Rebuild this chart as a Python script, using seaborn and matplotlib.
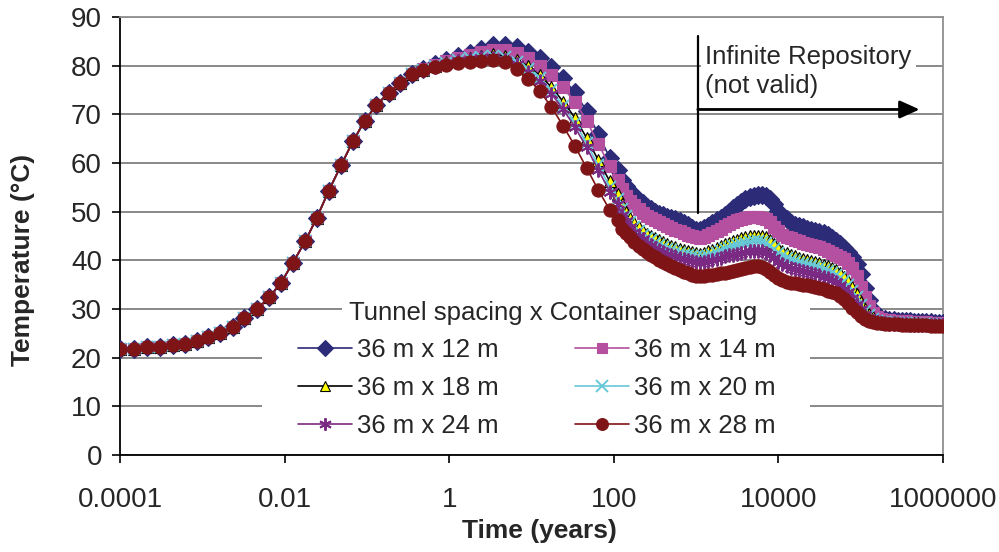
import matplotlib
matplotlib.use("Agg")
import matplotlib.pyplot as plt
from matplotlib.lines import Line2D
from matplotlib.patches import Rectangle
from matplotlib.ticker import FixedLocator, FixedFormatter, NullLocator
import pandas as pd
import seaborn as sns

sns.set_theme(style="white")
plt.rcParams["font.family"] = ["Liberation Sans", "DejaVu Sans"]

# all layouts follow the same curve for the first months
early_years = [0.0001, 0.000148, 0.000211, 0.000307, 0.000438, 0.000618, 0.000858,
               0.00119, 0.00165, 0.00235, 0.00325, 0.0046, 0.00655, 0.009, 0.0126,
               0.0178, 0.0247, 0.0342, 0.0488, 0.0678, 0.0938, 0.13, 0.184, 0.255, 0.354]
early_temp = [21.8, 21.8, 22.1, 22.2, 22.6, 22.9, 23.4, 24.2, 25.1, 26.4, 28.1, 30.0,
              32.5, 35.3, 39.5, 43.9, 48.8, 54.2, 59.6, 64.5, 68.6, 71.9, 74.4, 76.5, 78.2]

mid_years = [0.481, 0.667, 0.925, 1.28, 1.78, 2.47, 3.42, 4.74, 6.58, 9.12, 12.6,
             17.5, 24.3, 33.7, 46.7, 64.7, 89.7]
late_years = [112, 126, 141, 158, 178, 200, 224, 251, 282, 316,
              355, 398, 447, 501, 562, 631, 708, 794, 891, 1000,
              1120, 1260, 1410, 1580, 1780, 2000, 2240, 2510, 2820, 3160,
              3550, 3980, 4470, 5010, 5620, 6310, 7080, 7940, 8910, 10000,
              11200, 12600, 14100, 15800, 17800, 20000, 22400, 25100, 28200, 31600,
              35500, 39800, 44700, 50100, 56200, 63100, 70800, 79400, 89100, 100000,
              112000, 126000, 141000, 158000, 178000, 200000, 224000, 251000, 282000, 316000,
              355000, 398000, 447000, 501000, 562000, 631000, 708000, 794000, 891000, 1000000]

temp_12 = [79.3, 80.3, 81.2, 81.9, 82.6, 83.4, 84.2, 84.3, 83.8, 82.8, 81.5, 79.8, 77.4,
           74.5, 70.7, 66.0, 61.0,
           58.6, 56.6, 55.3, 54.2, 53.3, 52.5, 51.7, 51.0, 50.5, 50.0,
           49.6, 49.3, 49.0, 48.7, 48.4, 48.0, 47.6, 47.2, 46.7, 46.3,
           46.3, 46.6, 47.1, 47.6, 48.2, 48.8, 49.4, 50.0, 50.7, 51.3,
           52.0, 52.6, 53.0, 53.3, 53.5, 53.5, 53.2, 52.6, 51.5, 50.2,
           49.2, 48.4, 47.7, 47.2, 47.0, 46.8, 46.5, 46.3, 46.1, 45.9,
           45.6, 45.2, 44.6, 44.0, 43.4, 42.6, 41.8, 40.7, 39.2, 37.2,
           34.4, 31.8, 29.8, 28.6, 28.1, 27.9, 27.8, 27.7, 27.6, 27.6,
           27.5, 27.5, 27.4, 27.4, 27.4, 27.4, 27.3, 27.2, 27.2, 27.1]
temp_14 = [79.3, 80.2, 81.0, 81.6, 82.2, 82.8, 83.3, 83.2, 82.6, 81.6, 80.0, 78.0, 75.6,
           72.6, 68.7, 64.0, 59.3,
           56.6, 54.6, 53.3, 52.2, 51.3, 50.5, 49.8, 49.2, 48.7, 48.2,
           47.8, 47.4, 47.0, 46.7, 46.3, 46.0, 45.6, 45.3, 45.0, 44.7,
           44.6, 44.8, 45.2, 45.6, 46.0, 46.5, 47.0, 47.4, 47.8, 48.2,
           48.5, 48.7, 48.9, 49.0, 49.0, 48.8, 48.4, 47.8, 46.9, 46.0,
           45.3, 44.8, 44.5, 44.2, 43.9, 43.6, 43.4, 43.2, 43.0, 42.7,
           42.4, 42.0, 41.6, 41.2, 40.7, 40.2, 39.5, 38.5, 36.8, 34.5,
           32.4, 30.6, 29.2, 28.4, 28.0, 27.8, 27.7, 27.6, 27.6, 27.5,
           27.5, 27.4, 27.4, 27.3, 27.3, 27.3, 27.2, 27.2, 27.1, 27.1]
temp_18 = [79.2, 80.0, 80.7, 81.2, 81.6, 82.0, 82.3, 82.0, 81.2, 79.9, 78.0, 75.6, 72.6,
           69.3, 65.2, 60.6, 56.2,
           53.6, 51.5, 50.0, 48.8, 47.7, 46.8, 46.1, 45.5, 45.0, 44.5,
           44.1, 43.7, 43.3, 43.0, 42.7, 42.4, 42.1, 41.9, 41.7, 41.5,
           41.4, 41.6, 41.9, 42.2, 42.5, 42.9, 43.3, 43.6, 43.9, 44.2,
           44.5, 44.7, 44.9, 45.1, 45.1, 45.0, 44.7, 44.2, 43.4, 42.6,
           42.0, 41.5, 41.1, 40.8, 40.5, 40.3, 40.1, 39.9, 39.7, 39.4,
           39.1, 38.8, 38.4, 38.0, 37.4, 36.6, 35.7, 34.5, 33.1, 31.5,
           30.1, 29.0, 28.3, 27.8, 27.6, 27.4, 27.3, 27.3, 27.2, 27.2,
           27.1, 27.1, 27.1, 27.1, 27.0, 27.0, 27.0, 27.0, 26.9, 26.9]
temp_20 = [79.2, 79.9, 80.6, 81.1, 81.5, 81.8, 82.0, 81.7, 80.8, 79.4, 77.4, 74.9, 71.8,
           68.3, 64.1, 59.5, 55.1,
           52.6, 50.5, 49.1, 47.9, 46.9, 46.0, 45.3, 44.6, 44.1, 43.6,
           43.2, 42.8, 42.4, 42.1, 41.8, 41.5, 41.2, 41.0, 40.8, 40.6,
           40.5, 40.7, 40.9, 41.2, 41.5, 41.9, 42.3, 42.6, 42.9, 43.1,
           43.4, 43.6, 43.8, 43.9, 43.9, 43.8, 43.5, 43.0, 42.3, 41.5,
           40.9, 40.5, 40.1, 39.8, 39.5, 39.3, 39.1, 38.9, 38.7, 38.4,
           38.1, 37.8, 37.4, 37.0, 36.4, 35.7, 34.9, 33.8, 32.4, 30.9,
           29.6, 28.7, 28.0, 27.6, 27.4, 27.3, 27.2, 27.2, 27.1, 27.1,
           27.1, 27.0, 27.0, 27.0, 26.9, 26.9, 26.9, 26.9, 26.8, 26.8]
temp_24 = [79.1, 79.8, 80.4, 80.9, 81.2, 81.5, 81.6, 81.2, 80.3, 78.8, 76.8, 74.2, 71.0,
           67.4, 63.2, 58.6, 54.1,
           51.6, 49.4, 48.0, 46.9, 45.9, 45.0, 44.3, 43.6, 43.1, 42.6,
           42.2, 41.8, 41.4, 41.1, 40.8, 40.5, 40.2, 40.0, 39.8, 39.6,
           39.5, 39.6, 39.8, 40.0, 40.2, 40.5, 40.8, 41.0, 41.2, 41.4,
           41.6, 41.8, 41.9, 42.0, 42.0, 41.9, 41.5, 41.0, 40.4, 39.7,
           39.2, 38.8, 38.5, 38.2, 38.0, 37.8, 37.6, 37.4, 37.2, 36.9,
           36.6, 36.3, 35.9, 35.5, 34.9, 34.2, 33.4, 32.3, 31.1, 29.9,
           28.8, 28.1, 27.6, 27.3, 27.2, 27.1, 27.0, 27.0, 26.9, 26.9,
           26.9, 26.8, 26.8, 26.8, 26.8, 26.7, 26.7, 26.7, 26.7, 26.7]
temp_28 = [79.1, 79.7, 80.2, 80.5, 80.8, 81.0, 81.1, 80.7, 79.4, 77.3, 74.8, 71.5, 67.6,
           63.5, 59.0, 54.5, 50.3,
           48.2, 46.5, 45.6, 44.7, 43.8, 43.0, 42.3, 41.7, 41.1, 40.6,
           40.1, 39.7, 39.3, 38.9, 38.4, 38.0, 37.6, 37.3, 37.0, 36.8,
           36.7, 36.8, 36.9, 37.0, 37.1, 37.3, 37.4, 37.6, 37.8, 38.0,
           38.3, 38.5, 38.7, 38.8, 38.8, 38.6, 38.2, 37.6, 36.9, 36.3,
           35.9, 35.6, 35.4, 35.3, 35.1, 35.0, 34.9, 34.7, 34.5, 34.3,
           34.1, 33.8, 33.5, 33.2, 32.7, 32.0, 31.2, 30.3, 29.4, 28.6,
           28.0, 27.6, 27.4, 27.2, 27.1, 27.0, 27.0, 26.9, 26.9, 26.8,
           26.8, 26.8, 26.7, 26.7, 26.7, 26.7, 26.6, 26.6, 26.6, 26.6]

labels = ["36 m x 12 m", "36 m x 14 m", "36 m x 18 m",
          "36 m x 20 m", "36 m x 24 m", "36 m x 28 m"]
series = [temp_12, temp_14, temp_18, temp_20, temp_24, temp_28]

# line colour, marker, face colour, edge colour, marker size
styles = [
    ("#2b2b78", "D", "#2b2b78", "#2b2b78", 9.0),
    ("#b4509f", "s", "#b4509f", "#b4509f", 8.5),
    ("#000000", "^", "#ffff00", "#000000", 8.5),
    ("#66c8d8", "x", "#66c8d8", "#66c8d8", 9.0),
    ("#7a2a82", (6, 2, 0), "#7a2a82", "#7a2a82", 10.0),
    ("#7e1416", "o", "#7e1416", "#7e1416", 9.5),
]

years = early_years + mid_years + late_years

fig = plt.figure(figsize=(9.99, 5.52), dpi=100)
ax = fig.add_axes([0.1201, 0.1757, 0.8238, 0.7935])

handles = []
for lab, vals, (col, mk, fc, ec, ms) in zip(labels, series, styles):
    df = pd.DataFrame({"years": years, "temp": early_temp + vals})
    mew = 1.4 if mk in ("x", (6, 2, 0)) else 0.8
    sns.lineplot(data=df, x="years", y="temp", ax=ax, color=col, marker=mk,
                 markersize=ms, markerfacecolor=fc, markeredgecolor=ec,
                 markeredgewidth=mew, linewidth=1.2, sort=False, estimator=None, zorder=3)
    handles.append(Line2D([], [], color=col, marker=mk, markersize=ms - 1,
                          markerfacecolor=fc, markeredgecolor=ec,
                          markeredgewidth=mew, linewidth=1.2))

ax.set_xscale("log")
ax.set_xlim(1e-4, 1e6)
ax.set_ylim(0, 90)
xt = [1e-4, 1e-2, 1, 100, 1e4, 1e6]
ax.xaxis.set_major_locator(FixedLocator(xt))
ax.xaxis.set_major_formatter(FixedFormatter(["0.0001", "0.01", "1", "100", "10000", "1000000"]))
ax.xaxis.set_minor_locator(NullLocator())
ax.set_yticks(range(0, 91, 10))
ax.tick_params(axis="both", which="major", labelsize=20, length=6, width=1.2,
               color="black", direction="out", left=True, bottom=True)
ax.tick_params(axis="x", pad=17)
ax.tick_params(axis="y", pad=7)
ax.grid(axis="y", color="#808080", linewidth=1.3)
ax.grid(axis="x", visible=False)
ax.set_axisbelow(True)
for s in ("left", "bottom"):
    ax.spines[s].set_color("black")
    ax.spines[s].set_linewidth(1.3)
for s in ("right", "top"):
    ax.spines[s].set_color("#909090")
    ax.spines[s].set_linewidth(1.3)

ax.set_xlabel("Time (years)", fontsize=19, fontweight="bold")
ax.set_ylabel("Temperature (°C)", fontsize=19, fontweight="bold")
ax.xaxis.set_label_coords(0.51, -0.146)
ax.yaxis.set_label_coords(-0.103, 0.445)

# "infinite repository" marker: vertical line, note and arrow
ax.plot([1050, 1050], [49.7, 86.0], color="black", linewidth=1.6, zorder=5)
ax.text(1300, 84.2, "Infinite Repository\n(not valid)", fontsize=18.5, va="top", ha="left",
        linespacing=1.25, zorder=4,
        bbox=dict(facecolor="white", edgecolor="none", pad=3))
ax.annotate("", xy=(5.2e5, 71.0), xytext=(1050, 71.0), zorder=5,
            arrowprops=dict(arrowstyle="-|>,head_length=1.0,head_width=0.45",
                            color="black", linewidth=2.0, shrinkA=0, shrinkB=0))

# white background of the legend block (hides the gridlines behind it)
ax.add_patch(Rectangle((0.1725, 0.007), 0.666, 0.297, transform=ax.transAxes,
                       facecolor="white", edgecolor="none", zorder=2))
ax.add_patch(Rectangle((0.2697, 0.30), 0.5687, 0.055, transform=ax.transAxes,
                       facecolor="white", edgecolor="none", zorder=2))

order = [0, 2, 4, 1, 3, 5]
leg = ax.legend([handles[i] for i in order], [labels[i] for i in order], ncol=2,
                loc="upper left", bbox_to_anchor=(0.2163, 0.267), fontsize=18.5,
                frameon=False, handlelength=2.1, handletextpad=0.2,
                columnspacing=2.95, labelspacing=0.55, borderpad=0, borderaxespad=0)
leg.set_zorder(6)
ax.text(0.278, 0.325, "Tunnel spacing x Container spacing", transform=ax.transAxes,
        fontsize=18.5, ha="left", va="center", zorder=7)

fig.savefig("out.png", dpi=100)
